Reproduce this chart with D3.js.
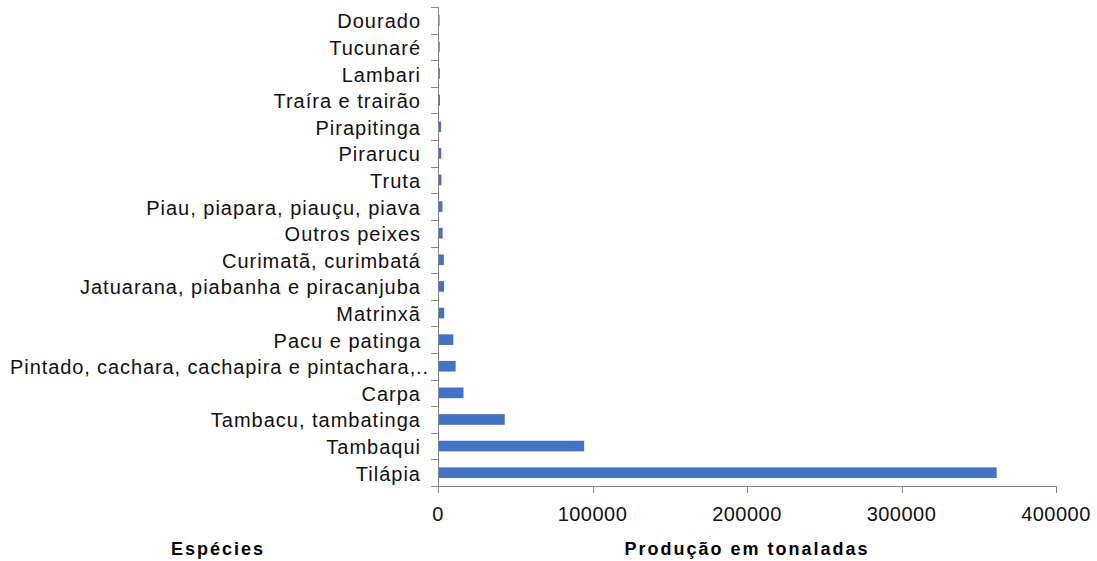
<script src="https://cdnjs.cloudflare.com/ajax/libs/d3/7.8.5/d3.min.js"></script>
<style>
  body { margin: 0; background: #fff; }
  text { font-family: "Liberation Sans", Arial, sans-serif; }
</style>
<svg id="chart" width="1097" height="561"></svg>
<script>
// species, top to bottom as drawn
const species = [
  "Dourado", "Tucunaré", "Lambari", "Traíra e trairão", "Pirapitinga",
  "Pirarucu", "Truta", "Piau, piapara, piauçu, piava", "Outros peixes",
  "Curimatã, curimbatá", "Jatuarana, piabanha  e piracanjuba", "Matrinxã",
  "Pacu e patinga", "Pintado, cachara, cachapira e pintachara,..",
  "Carpa", "Tambacu, tambatinga", "Tambaqui", "Tilápia"
];
// production in tonnes
const production = [
  1000, 1100, 1200, 1300, 2000,
  2100, 2200, 2900, 3000,
  3800, 3900, 4000,
  9900, 11400,
  16500, 43200, 94600, 361600
];
const xTicks = [0, 100000, 200000, 300000, 400000];

const rows = species.map((s, i) => ({ name: s, value: production[i] }));

const plotL = 438, plotR = 1056, plotT = 7, plotB = 486;
const axisColor = "#868686";

const svg = d3.select("#chart");

const x = d3.scaleLinear().domain([0, 400000]).range([plotL, plotR]);
const band = d3.scaleBand().domain(species).range([plotT, plotB]);

// bars
svg.append("g").selectAll("rect")
  .data(rows)
  .join("rect")
  .attr("x", x(0))
  .attr("y", d => band(d.name) + band.bandwidth() * 0.3)
  .attr("width", d => x(d.value) - x(0))
  .attr("height", band.bandwidth() * 0.4)
  .attr("fill", "#4472C4");

// y axis: line + ticks between categories
const gy = svg.append("g");
gy.append("line")
  .attr("x1", plotL + 0.5).attr("x2", plotL + 0.5)
  .attr("y1", plotT).attr("y2", plotB)
  .attr("stroke", axisColor);
const bounds = species.map(s => band(s)).concat([plotB]);
gy.selectAll("line.tk")
  .data(bounds)
  .join("line")
  .attr("class", "tk")
  .attr("x1", plotL - 7).attr("x2", plotL)
  .attr("y1", d => Math.round(d) + 0.5).attr("y2", d => Math.round(d) + 0.5)
  .attr("stroke", axisColor);
// truncated label runs closer to the axis, like the spreadsheet does it
gy.selectAll("text")
  .data(species)
  .join("text")
  .attr("x", d => d.endsWith("..") ? 429 : 421)
  .attr("y", d => band(d) + band.bandwidth() / 2)
  .attr("dy", "0.4em")
  .attr("text-anchor", "end")
  .attr("font-size", 20)
  .attr("letter-spacing", d => d.endsWith("..") ? 0.9 : 1)
  .attr("fill", "#111")
  .text(d => d);

// x axis
const gx = svg.append("g");
gx.append("line")
  .attr("x1", plotL).attr("x2", plotR + 0.5)
  .attr("y1", plotB + 0.5).attr("y2", plotB + 0.5)
  .attr("stroke", axisColor);
gx.selectAll("line.tk")
  .data(xTicks)
  .join("line")
  .attr("class", "tk")
  .attr("x1", d => Math.round(x(d)) + 0.5).attr("x2", d => Math.round(x(d)) + 0.5)
  .attr("y1", plotB).attr("y2", plotB + 7)
  .attr("stroke", axisColor);
gx.selectAll("text")
  .data(xTicks)
  .join("text")
  .attr("x", d => x(d))
  .attr("y", 521)
  .attr("text-anchor", "middle")
  .attr("font-size", 20)
  .attr("letter-spacing", 0.5)
  .attr("fill", "#111")
  .text(d => d);

// axis titles
svg.append("text")
  .attr("x", 218).attr("y", 555)
  .attr("text-anchor", "middle")
  .attr("font-size", 18).attr("font-weight", "bold")
  .attr("letter-spacing", 2)
  .text("Espécies");
svg.append("text")
  .attr("x", 747).attr("y", 555)
  .attr("text-anchor", "middle")
  .attr("font-size", 18).attr("font-weight", "bold")
  .attr("letter-spacing", 2)
  .text("Produção em tonaladas");
</script>
